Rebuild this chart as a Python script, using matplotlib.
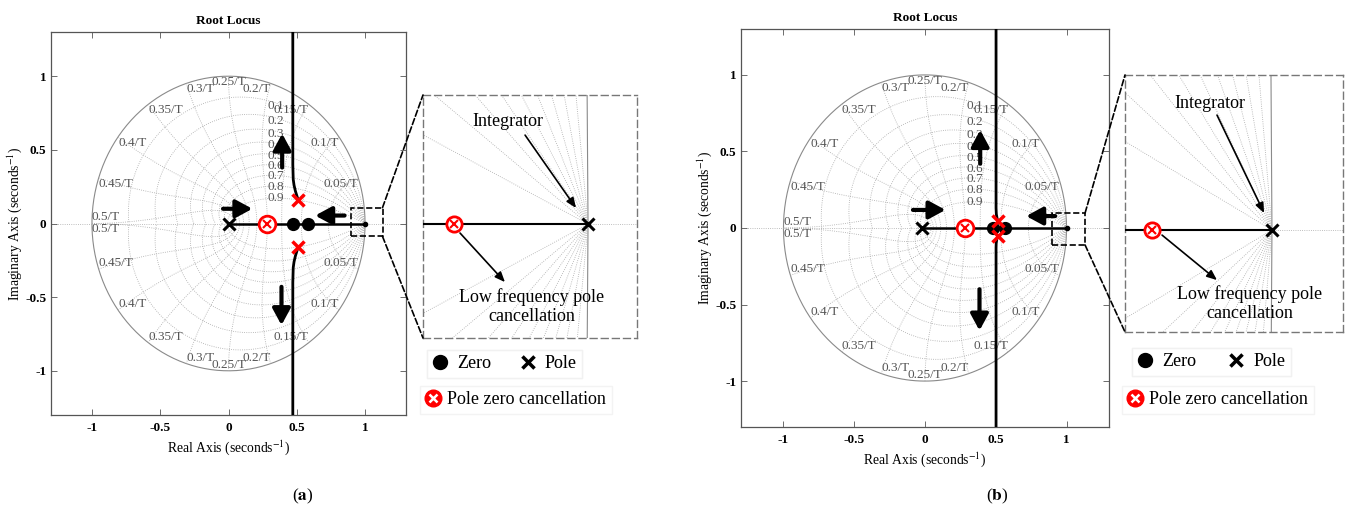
import numpy as np
import matplotlib
matplotlib.use("Agg")
import matplotlib.pyplot as plt
from matplotlib.lines import Line2D
from matplotlib.legend_handler import HandlerTuple
from matplotlib.patches import Rectangle, ConnectionPatch

plt.rcParams['font.family'] = ['Liberation Serif', 'DejaVu Serif']
plt.rcParams['mathtext.fontset'] = 'stix'
plt.rcParams['axes.unicode_minus'] = False

# ---- data ----
ticks = [-1, -0.5, 0, 0.5, 1]
tick_labels = ['-1', '-0.5', '0', '0.5', '1']
damping = [0.1, 0.2, 0.3, 0.4, 0.5, 0.6, 0.7, 0.8, 0.9]
nat_freq = [0.05, 0.1, 0.15, 0.2, 0.25, 0.3, 0.35, 0.4, 0.45, 0.5]

# panel (a)
a_pole = [0.0]
a_zeros = [0.474, 0.581]
a_cancel = [0.283]
a_cl_x = [0.51, 0.51]
a_cl_y = [0.16, -0.16]
a_real_x = [0.0, 1.0]
a_up_x = [0.51, 0.50, 0.49, 0.48, 0.474, 0.471, 0.471]
a_up_y = [0.16, 0.19, 0.22, 0.26, 0.30, 0.40, 1.30]
a_lo_x = [0.51, 0.50, 0.49, 0.48, 0.474, 0.471, 0.471]
a_lo_y = [-0.16, -0.19, -0.22, -0.26, -0.30, -0.40, -1.30]
a_arrows = [((0.393, 0.38), (0.393, 0.61)),
            ((0.388, -0.43), (0.388, -0.69)),
            ((-0.04, 0.10), (0.175, 0.10)),
            ((0.85, 0.054), (0.635, 0.054))]
a_box = (0.894, -0.088, 1.128, 0.108)

# panel (b)
b_pole = [-0.02]
b_zeros = [0.48, 0.565]
b_cancel = [0.283]
b_cl_x = [0.517, 0.515]
b_cl_y = [0.045, -0.05]
b_real_x = [-0.02, 1.0]
b_up_x = [0.517, 0.510, 0.504, 0.502, 0.502]
b_up_y = [0.045, 0.06, 0.09, 0.13, 1.30]
b_lo_x = [0.515, 0.508, 0.503, 0.502, 0.502]
b_lo_y = [-0.05, -0.07, -0.10, -0.13, -1.30]
b_arrows = [((0.39, 0.42), (0.39, 0.64)),
            ((0.385, -0.40), (0.385, -0.67)),
            ((-0.085, 0.118), (0.145, 0.118)),
            ((0.92, 0.078), (0.715, 0.078))]
b_box = (0.898, -0.111, 1.131, 0.098)

# zoomed view near z = 1
inset_pole = [1.0]
inset_cancel = [0.998]

W, H = 1349, 513
GRID_FS = 9.5
NOTE_FS = 13


def px(l, t, r, b):
    return [l / W, 1 - b / H, (r - l) / W, (b - t) / H]


def zgrid(ax, labels=True):
    gc = '#a8a8a8'
    tc = '#555555'
    th = np.linspace(0, 2 * np.pi, 400)
    ax.plot(np.cos(th), np.sin(th), color='#8a8a8a', lw=0.8, zorder=1)
    for z in damping:
        wd = np.linspace(0, np.pi, 300)
        s = -z / np.sqrt(1 - z ** 2) * wd + 1j * wd
        zz = np.exp(s)
        ax.plot(zz.real, zz.imag, ls=':', color=gc, lw=0.6, zorder=1)
        ax.plot(zz.real, -zz.imag, ls=':', color=gc, lw=0.6, zorder=1)
        if labels:
            i = np.argmax(zz.real < 0.42)
            ax.text(0.41, zz.imag[i], f'{z:g}', ha='right', va='center',
                    fontsize=GRID_FS, color=tc, zorder=2)
    for f in nat_freq:
        wn = 2 * np.pi * f
        zeta = np.linspace(0, 1, 200)
        zz = np.exp(wn * (-zeta + 1j * np.sqrt(1 - zeta ** 2)))
        ax.plot(zz.real, zz.imag, ls=':', color=gc, lw=0.6, zorder=1)
        ax.plot(zz.real, -zz.imag, ls=':', color=gc, lw=0.6, zorder=1)
        if labels:
            x, y = np.cos(wn), np.sin(wn)
            ha = 'right' if x > 0.01 else ('left' if x < -0.01 else 'center')
            lab = f'{f:g}/T'
            if f == 0.5:
                ax.text(x, 0.0, lab, ha='left', va='bottom', fontsize=GRID_FS, color=tc)
                ax.text(x, 0.0, lab, ha='left', va='top', fontsize=GRID_FS, color=tc)
            else:
                ax.text(x, y, lab, ha=ha, va='top', fontsize=GRID_FS, color=tc)
                ax.text(x, -y, lab, ha=ha, va='bottom', fontsize=GRID_FS, color=tc)
    ax.axhline(0, ls=':', color=gc, lw=0.6, zorder=1)


def cancel_marker(ax, xs, ys, ms=12):
    ax.plot(xs, ys, 'o', mfc='white', mec='red', mew=2, ms=ms, zorder=5)
    ax.plot(xs, ys, 'x', color='red', mew=1.5, ms=ms * 0.5, zorder=6)


def panel(rect, pole, zeros, cancel, clx, cly, real_x, up, lo, arrows, box, inset_rect, inset_lim,
          label, leg1, leg2, colsp, texts):
    ax = fig.add_axes(rect)
    zgrid(ax)
    ax.plot(real_x, [0, 0], color='k', lw=1.8, zorder=3)
    ax.plot(up[0], up[1], color='k', lw=2, zorder=3)
    ax.plot(lo[0], lo[1], color='k', lw=2, zorder=3)
    ax.plot([real_x[1]], [0], 'o', color='k', ms=3, zorder=4)
    ax.plot(zeros, [0] * len(zeros), 'o', color='k', ms=8.5, zorder=4)
    ax.plot(pole, [0] * len(pole), 'x', color='k', ms=8, mew=2.2, zorder=4)
    cancel_marker(ax, cancel, [0] * len(cancel))
    ax.plot(clx, cly, 'x', color='red', ms=9, mew=2.5, zorder=7)
    for tail, head in arrows:
        ax.annotate('', xy=head, xytext=tail,
                    arrowprops=dict(arrowstyle='-|>,head_length=0.7,head_width=0.38',
                                    lw=3, color='k', mutation_scale=14,
                                    shrinkA=0, shrinkB=0), zorder=8)
    ax.set_xlim(-1.3, 1.3)
    ax.set_ylim(-1.3, 1.3)
    ax.set_xticks(ticks)
    ax.set_xticklabels(tick_labels, fontweight='bold', fontsize=9.5)
    ax.set_yticks(ticks)
    ax.set_yticklabels(tick_labels, fontweight='bold', fontsize=9.5)
    ax.tick_params(direction='in', top=True, right=True, length=4, width=0.6, color='#555555', pad=5)
    ax.tick_params(axis='y', pad=3.5)
    for sp in ax.spines.values():
        sp.set_color('#555555')
        sp.set_linewidth(0.9)
    ax.set_title('Root Locus', fontsize=9.5, fontweight='bold', pad=6)
    ax.set_xlabel(r'Real Axis (seconds$^{\mathrm{-1}}$)', fontsize=9.8, labelpad=3)
    ax.set_ylabel(r'Imaginary Axis (seconds$^{\mathrm{-1}}$)', fontsize=9.8, labelpad=0.5)

    # small dashed box around z = 1
    x0, y0, x1, y1 = box
    ax.add_patch(Rectangle((x0, y0), x1 - x0, y1 - y0, fill=False, ls='--', lw=1.2,
                           ec='k', zorder=9, clip_on=False))

    # zoomed inset
    ins = fig.add_axes(inset_rect)
    zgrid(ins, labels=False)
    ins.plot([inset_lim[0], inset_pole[0]], [0, 0], color='k', lw=1.5, zorder=3)
    ins.plot(inset_pole, [0], 'x', color='k', ms=8, mew=2.2, zorder=4)
    cancel_marker(ins, inset_cancel, [0], ms=11)
    ins.set_xlim(inset_lim[0], inset_lim[1])
    ins.set_ylim(inset_lim[2], inset_lim[3])
    ins.set_xticks([])
    ins.set_yticks([])
    for sp in ins.spines.values():
        sp.set_linestyle((0, (5, 3)))
        sp.set_color('#777777')
        sp.set_linewidth(1)
    (it_xy, it_tail, it_head, lf_tail, lf_head, lf_xy) = texts
    ins.text(*it_xy, 'Integrator', transform=ins.transAxes, ha='center', va='center', fontsize=NOTE_FS)
    for tail, head in [(it_tail, it_head), (lf_tail, lf_head)]:
        ins.annotate('', xy=head, xytext=tail, xycoords='axes fraction', textcoords='axes fraction',
                     arrowprops=dict(arrowstyle='-|>,head_length=0.6,head_width=0.25', lw=1.2,
                                     color='k', mutation_scale=10, shrinkA=0, shrinkB=0))
    ins.text(*lf_xy, 'Low frequency pole\ncancellation', transform=ins.transAxes, ha='center',
             va='center', fontsize=NOTE_FS, linespacing=1.15)

    for xy_main, xy_ins in [((x1, y1), (0, 1)), ((x1, y0), (0, 0))]:
        con = ConnectionPatch(xyA=xy_main, coordsA=ax.transData, xyB=xy_ins, coordsB=ins.transAxes,
                              ls='--', lw=1.2, color='k', zorder=10)
        fig.add_artist(con)

    # legend boxes
    h_zero = Line2D([], [], ls='none', marker='o', color='k', ms=10)
    h_pole = Line2D([], [], ls='none', marker='x', color='k', ms=9, mew=2.5)
    h_c1 = Line2D([], [], ls='none', marker='o', mfc='red', mec='red', mew=1, ms=12)
    h_c2 = Line2D([], [], ls='none', marker='x', color='white', mew=1.8, ms=6)
    l1 = fig.legend([h_zero, h_pole], ['Zero', 'Pole'], loc='center left', bbox_to_anchor=leg1,
                    ncol=2, fontsize=NOTE_FS, frameon=True, fancybox=False, edgecolor='#f0f0f0',
                    handlelength=0.8, handletextpad=0.55, columnspacing=colsp, borderpad=0.3,
                    borderaxespad=0)
    fig.add_artist(l1)
    fig.legend([(h_c1, h_c2)], ['Pole zero cancellation'], loc='center left', bbox_to_anchor=leg2,
               handler_map={tuple: HandlerTuple(ndivide=1)}, fontsize=NOTE_FS, frameon=True,
               fancybox=False, edgecolor='#f0f0f0', handlelength=0.8, handletextpad=0.42,
               borderpad=0.3, borderaxespad=0)
    fig.text(*label, r'($\mathbf{' + ('a' if label[0] < 0.5 else 'b') + r'}$)', ha='center',
             va='center', fontsize=12.5)
    return ax


fig = plt.figure(figsize=(13.49, 5.13), dpi=100)

panel(px(51, 32, 406, 415), a_pole, a_zeros, a_cancel, a_cl_x, a_cl_y, a_real_x,
      (a_up_x, a_up_y), (a_lo_x, a_lo_y), a_arrows, a_box,
      px(423, 95, 637, 338), (0.99754, 1.00073, -0.0015, 0.0017),
      (303 / W, 1 - 496 / H), (427 / W, 1 - 364 / H), (420 / W, 1 - 400 / H), 1.65,
      ((0.397, 0.889), (0.477, 0.835), (0.715, 0.535), (0.173, 0.432), (0.383, 0.23), (0.509, 0.128)))

panel(px(741, 29, 1109, 427), b_pole, b_zeros, b_cancel, b_cl_x, b_cl_y, b_real_x,
      (b_up_x, b_up_y), (b_lo_x, b_lo_y), b_arrows, b_box,
      px(1125, 75, 1343, 332), (0.997549, 1.001185, -0.00135, 0.00205),
      (997 / W, 1 - 496 / H), (1132 / W, 1 - 362 / H), (1122 / W, 1 - 400 / H), 1.85,
      ((0.39, 0.891), (0.422, 0.844), (0.638, 0.463), (0.17, 0.377), (0.422, 0.202), (0.573, 0.109)))

fig.savefig('out.png', dpi=100)
